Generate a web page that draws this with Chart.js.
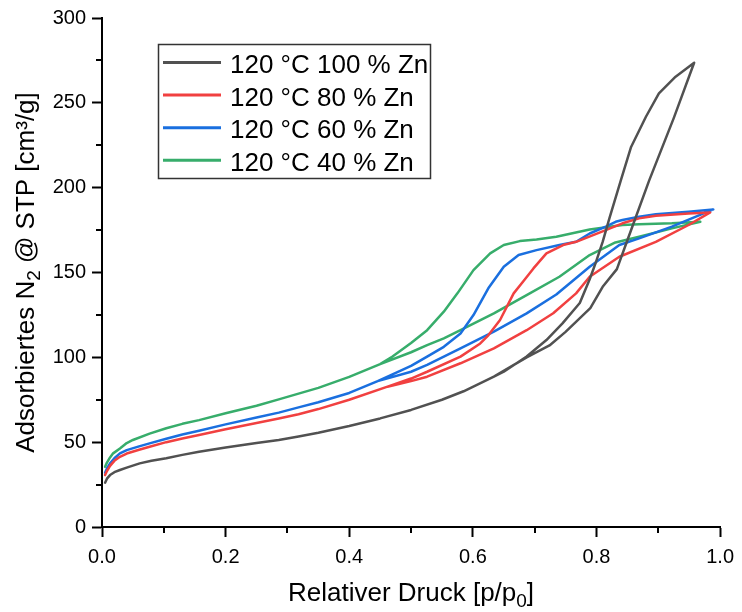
<!DOCTYPE html>
<html><head><meta charset="utf-8">
<script src="https://cdn.jsdelivr.net/npm/chart.js@4.4.1/dist/chart.umd.min.js"></script>
<style>html,body{margin:0;padding:0;background:#fff;overflow:hidden}</style>
</head><body>
<canvas id="c" width="742" height="612"></canvas>
<script>
// Series labels
const seriesLabels = ["120 °C 100 % Zn", "120 °C 80 % Zn", "120 °C 60 % Zn", "120 °C 40 % Zn"];
const seriesColors = ["#515151", "#F14040", "#1A6FDF", "#37AD6B"];

// 100 % Zn – adsorption / desorption
const p100a = [0.005,0.008,0.013,0.02,0.029,0.04,0.061,0.08,0.104,0.13,0.157,0.2,0.25,0.286,0.318,0.35,0.4,0.45,0.5,0.55,0.585,0.634,0.687,0.724,0.75,0.79,0.81,0.833,0.85,0.885,0.925,0.958];
const v100a = [26.1,28.5,30.6,32.3,33.6,35,37.5,39,40.5,42.5,44.4,46.8,49.5,51.3,53.3,55.5,59.5,64,69,75,80,88.6,100,107,115,129,141.6,152,169,204,241,273.6];
const p100d = [0.928,0.901,0.88,0.856,0.84,0.821,0.81,0.799,0.789,0.773,0.745,0.719,0.687,0.65,0.634,0.585];
const v100d = [265.4,255.6,241.8,224,205,182,168,156,146,132,120,110.2,100.5,91.5,88.6,80];

// 80 % Zn
const p80a = [0.005,0.008,0.013,0.02,0.029,0.04,0.06,0.077,0.104,0.13,0.157,0.2,0.25,0.286,0.318,0.35,0.4,0.462,0.5,0.526,0.58,0.634,0.687,0.73,0.767,0.789,0.837,0.896,0.949,0.984];
const v80a = [30.6,33,36,39,41.4,43.3,45.5,47.3,50,52.2,54.2,57.6,61.3,64,66.5,69.5,75,82.7,86,88.6,96.5,105.3,116,126,137.7,147.5,159.3,168.1,178,185.4];
const p80d = [0.949,0.896,0.869,0.842,0.815,0.767,0.746,0.719,0.698,0.682,0.666,0.644,0.625,0.612,0.58,0.526,0.5,0.462,0.4];
const v80d = [184.8,183.4,181.9,179,175,168.1,166.2,161.3,152.4,145,137.7,122,113,108.2,100.4,91.5,87.5,82.7,75];

// 60 % Zn
const p60a = [0.005,0.008,0.013,0.02,0.029,0.04,0.06,0.077,0.104,0.13,0.157,0.2,0.25,0.286,0.318,0.35,0.4,0.446,0.5,0.526,0.58,0.634,0.687,0.735,0.789,0.837,0.869,0.922,0.989];
const v60a = [32,34.5,37.5,40.5,43.4,45.3,47.5,49.3,52,54.5,56.7,60.5,64.5,67.4,70.5,73.5,79,86,91.5,95.5,105.3,115.1,125.9,137,153.4,166.2,170.1,177,187.2];
const p60d = [0.949,0.896,0.869,0.842,0.831,0.815,0.789,0.767,0.74,0.703,0.674,0.65,0.625,0.601,0.58,0.553,0.526,0.5,0.47,0.446,0.4];
const v60d = [185.8,184.3,182.9,180.9,179.9,177,173,168.1,166.2,163.2,160.3,153.4,140.7,124.9,114,106.2,100.4,95,90,86,79];

// 40 % Zn
const p40a = [0.005,0.008,0.013,0.018,0.029,0.04,0.05,0.077,0.104,0.13,0.157,0.2,0.25,0.286,0.35,0.4,0.45,0.5,0.526,0.553,0.58,0.634,0.687,0.74,0.789,0.829,0.869,0.922,0.968];
const v40a = [35.5,38,41,43.4,46.3,49.5,51.3,55,58.2,60.8,63,67,71.5,75.2,82,88.5,96,103,107.2,111.2,116,125.9,136.7,147.5,160.3,167.5,171.1,176,179.9];
const p40d = [0.922,0.869,0.842,0.789,0.735,0.703,0.676,0.65,0.628,0.601,0.575,0.553,0.526,0.5,0.47,0.45,0.4];
const v40d = [179,178.4,178,175.4,171.1,169.5,168.5,166.2,161.3,151.4,137.7,126.9,116,108.5,100.5,96,88.5];

// Axis ticks
const xMajor = [0, 0.2, 0.4, 0.6, 0.8, 1.0];
const xMinor = [0.1, 0.3, 0.5, 0.7, 0.9];
const yMajor = [0, 50, 100, 150, 200, 250, 300];
const yMinor = [25, 75, 125, 175, 225, 275];
const xTitleParts = [["Relativer Druck [p/p", false], ["0", true], ["]", false]];
const yTitleParts = [["Adsorbiertes N", false], ["2", true], [" @ STP [cm³/g]", false]];

const FONT = "'Liberation Sans', Arial, Helvetica, sans-serif";

function pts(pa, va, pd, vd) {
  const out = pa.map((p, i) => ({x: p, y: va[i]}));
  pd.forEach((p, i) => out.push({x: p, y: vd[i]}));
  return out;
}
const allData = [
  pts(p100a, v100a, p100d, v100d),
  pts(p80a, v80a, p80d, v80d),
  pts(p60a, v60a, p60d, v60d),
  pts(p40a, v40a, p40d, v40d)
];

function drawRich(ctx, parts, cx, baseline, size, subSize, subShift) {
  let w = 0;
  const widths = parts.map(([t, sub]) => {
    ctx.font = (sub ? subSize : size) + "px " + FONT;
    const m = ctx.measureText(t).width; w += m; return m;
  });
  let x = cx - w / 2;
  parts.forEach(([t, sub], i) => {
    ctx.font = (sub ? subSize : size) + "px " + FONT;
    ctx.fillText(t, x, baseline + (sub ? subShift : 0));
    x += widths[i];
  });
}

const decor = {
  id: 'decor',
  afterDraw(chart) {
    const ctx = chart.ctx, xs = chart.scales.x, ys = chart.scales.y, a = chart.chartArea;
    ctx.save();
    // minor ticks
    ctx.strokeStyle = '#000'; ctx.lineWidth = 2;
    ctx.beginPath();
    xMinor.forEach(v => { const px = Math.round(xs.getPixelForValue(v)); ctx.moveTo(px, a.bottom); ctx.lineTo(px, a.bottom + 6); });
    yMinor.forEach(v => { const py = Math.round(ys.getPixelForValue(v)); ctx.moveTo(a.left, py); ctx.lineTo(a.left - 6, py); });
    ctx.stroke();

    // axis titles
    ctx.fillStyle = '#000';
    ctx.textAlign = 'left'; ctx.textBaseline = 'alphabetic';
    drawRich(ctx, xTitleParts, (a.left + a.right) / 2, 601, 26, 19, 6);
    ctx.save();
    ctx.translate(34, (a.top + a.bottom) / 2);
    ctx.rotate(-Math.PI / 2);
    drawRich(ctx, yTitleParts, 0, 0, 26, 19, 6);
    ctx.restore();

    // legend
    ctx.strokeStyle = '#333'; ctx.lineWidth = 1.5;
    ctx.strokeRect(158.5, 44.5, 272, 134);
    chart.data.datasets.forEach((ds, i) => {
      const y = 62.5 + i * 32.6;
      ctx.strokeStyle = ds.borderColor; ctx.lineWidth = 3;
      ctx.beginPath(); ctx.moveTo(163, y); ctx.lineTo(221, y); ctx.stroke();
      ctx.fillStyle = '#000';
      ctx.font = "26px " + FONT;
      ctx.textBaseline = 'alphabetic';
      ctx.fillText(ds.label, 230, y + 10.5);
    });
    ctx.restore();
  }
};

new Chart(document.getElementById('c'), {
  type: 'scatter',
  data: {
    datasets: allData.map((d, i) => ({
      label: seriesLabels[i],
      data: d,
      showLine: true,
      borderColor: seriesColors[i],
      backgroundColor: seriesColors[i],
      borderWidth: 2.5,
      pointRadius: 0,
      pointHoverRadius: 0,
      tension: 0,
      borderJoinStyle: 'round',
      borderCapStyle: 'round',
      fill: false
    }))
  },
  options: {
    responsive: false,
    animation: false,
    devicePixelRatio: 1,
    layout: {padding: {left: 0, right: 17, top: 18, bottom: 0}},
    plugins: {legend: {display: false}, tooltip: {enabled: false}},
    scales: {
      x: {
        type: 'linear', min: 0, max: 1,
        border: {display: true, color: '#000', width: 2},
        grid: {display: true, drawOnChartArea: false, drawTicks: true, tickLength: 10, tickWidth: 2, tickColor: '#000'},
        afterBuildTicks(s) { s.ticks = xMajor.map(v => ({value: v})); },
        ticks: {color: '#000', font: {family: FONT, size: 20}, padding: 8, maxRotation: 0, autoSkip: false,
                callback: v => Number(v).toFixed(1)},
        afterFit(s) { s.height = 85; }
      },
      y: {
        type: 'linear', min: 0, max: 300,
        border: {display: true, color: '#000', width: 2},
        grid: {display: true, drawOnChartArea: false, drawTicks: true, tickLength: 10, tickWidth: 2, tickColor: '#000'},
        afterBuildTicks(s) { s.ticks = yMajor.map(v => ({value: v})); },
        ticks: {color: '#000', font: {family: FONT, size: 20}, padding: 6, autoSkip: false,
                callback: v => String(v)},
        afterFit(s) { s.width = 102; }
      }
    }
  },
  plugins: [decor]
});
</script>
</body></html>
